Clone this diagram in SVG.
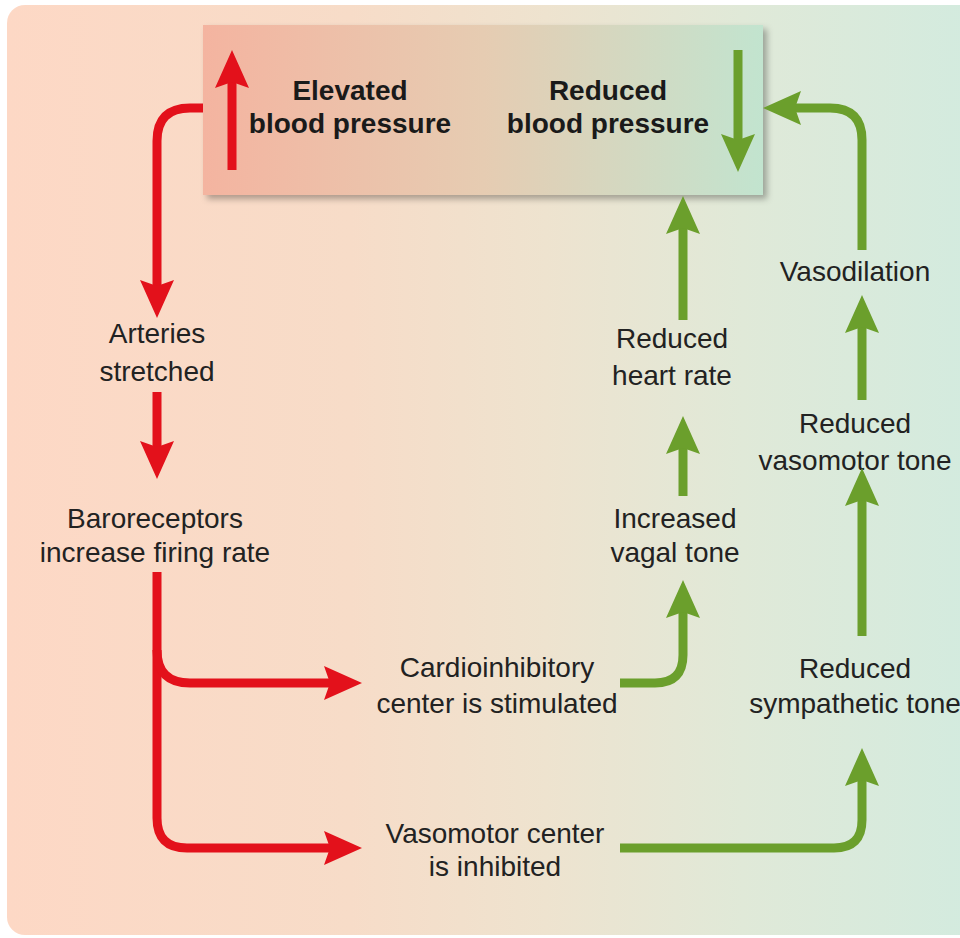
<svg xmlns="http://www.w3.org/2000/svg" width="960" height="938" viewBox="0 0 960 938">
<defs>
<linearGradient id="bg" x1="0" y1="0" x2="1" y2="0">
<stop offset="0" stop-color="#fdd8c5"/>
<stop offset="0.35" stop-color="#f7dcc8"/>
<stop offset="0.55" stop-color="#eee3cf"/>
<stop offset="0.75" stop-color="#e0e9d8"/>
<stop offset="1" stop-color="#d2ebdf"/>
</linearGradient>
<linearGradient id="box" x1="0" y1="0" x2="1" y2="0">
<stop offset="0" stop-color="#f4b4a0"/>
<stop offset="0.5" stop-color="#e6ccb2"/>
<stop offset="1" stop-color="#c2e4cf"/>
</linearGradient>
<filter id="sh" x="-5%" y="-10%" width="115%" height="130%">
<feDropShadow dx="4" dy="4" stdDeviation="3" flood-color="#000" flood-opacity="0.3"/>
</filter>
<marker id="rh" viewBox="0 0 38 34" refX="6" refY="17" markerWidth="38" markerHeight="34" markerUnits="userSpaceOnUse" orient="auto">
<path d="M0,0 L38,17 L0,34 L6,17 z" fill="#e3111b"/>
</marker>
<marker id="gh" viewBox="0 0 38 34" refX="6" refY="17" markerWidth="38" markerHeight="34" markerUnits="userSpaceOnUse" orient="auto">
<path d="M0,0 L38,17 L0,34 L6,17 z" fill="#6b9f2c"/>
</marker>
</defs>
<style>
text{font-family:"Liberation Sans",Arial,sans-serif;font-size:28px;fill:#222;text-anchor:middle}
.b{font-weight:bold;fill:#1a1a1a}
.r{fill:none;stroke:#e3111b;stroke-width:9}
.g{fill:none;stroke:#6b9f2c;stroke-width:9}
</style>
<rect x="0" y="0" width="960" height="938" fill="#ffffff"/>
<rect x="7" y="5" width="980" height="930" rx="18" fill="url(#bg)"/>

<g id="bp">
<rect x="203" y="25" width="560" height="170" fill="url(#box)" filter="url(#sh)"/>
<path class="r" d="M232,170 V82" marker-end="url(#rh)"/>
<path class="g" d="M738,50 V140" marker-end="url(#gh)"/>
<text class="b" x="350" y="100">Elevated</text>
<text class="b" x="350" y="133">blood pressure</text>
<text class="b" x="608" y="100">Reduced</text>
<text class="b" x="608" y="133">blood pressure</text>
</g>

<g id="arteries"><text x="157" y="343">Arteries</text><text x="157" y="381">stretched</text></g>
<g id="baro"><text x="155" y="528">Baroreceptors</text><text x="155" y="562">increase firing rate</text></g>
<g id="cardio"><text x="497" y="677">Cardioinhibitory</text><text x="497" y="713">center is stimulated</text></g>
<g id="vasomotor"><text x="495" y="843">Vasomotor center</text><text x="495" y="876">is inhibited</text></g>
<g id="vagal"><text x="675" y="528">Increased</text><text x="675" y="562">vagal tone</text></g>
<g id="heartrate"><text x="672" y="348">Reduced</text><text x="672" y="385">heart rate</text></g>
<g id="vasodilation"><text x="855" y="281">Vasodilation</text></g>
<g id="vmtone"><text x="855" y="433">Reduced</text><text x="855" y="470">vasomotor tone</text></g>
<g id="symp"><text x="855" y="678">Reduced</text><text x="855" y="713">sympathetic tone</text></g>

<g id="connectors">
<path class="r" d="M203,108 H190 Q157,108 157,141 V286" marker-end="url(#rh)"/>
<path class="r" d="M157,392 V447" marker-end="url(#rh)"/>
<path class="r" d="M157,572 V818 Q157,848 187,848 H330" marker-end="url(#rh)"/>
<path class="r" d="M157,650 Q157,683 190,683 H330" marker-end="url(#rh)"/>
<path class="g" d="M620,683 H655 Q683,683 683,655 V612" marker-end="url(#gh)"/>
<path class="g" d="M683,496 V448" marker-end="url(#gh)"/>
<path class="g" d="M683,320 V228" marker-end="url(#gh)"/>
<path class="g" d="M620,848 H834 Q862,848 862,820 V780" marker-end="url(#gh)"/>
<path class="g" d="M862,636 V500" marker-end="url(#gh)"/>
<path class="g" d="M862,400 V327" marker-end="url(#gh)"/>
<path class="g" d="M862,250 V140 Q862,108 830,108 H795" marker-end="url(#gh)"/>
</g>
</svg>
